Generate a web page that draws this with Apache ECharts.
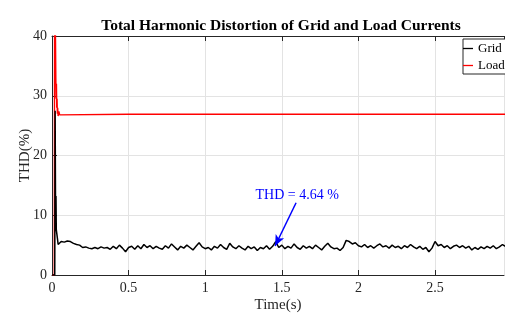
<!DOCTYPE html>
<html>
<head>
<meta charset="utf-8">
<script src="https://cdn.jsdelivr.net/npm/echarts@6/dist/echarts.min.js"></script>
<style>
  html, body { margin: 0; padding: 0; background: #fff; }
  #chart { width: 505px; height: 316px; }
</style>
</head>
<body>
<div id="chart"></div>
<script>
// start-up transient of the grid current THD
const gridStartTime = [0, 0.018, 0.0205, 0.023, 0.026, 0.028, 0.030, 0.033, 0.036, 0.040, 0.045, 0.050];
const gridStartThd  = [0, 0, 27.5, 12.0, 13.2, 7.6, 7.8, 7.4, 6.0, 5.1, 5.0, 5.4];

// steady part, one value every 0.02 s from 0.06 s
const gridSteadyStart = 0.06;
const gridSteadyStep = 0.02;
const gridSteadyThd = [
  5.6, 5.5, 5.7, 5.6, 5.3, 5.1, 5.0, 4.6, 4.7, 4.5,
  4.4, 4.6, 4.4, 4.7, 4.5, 4.6, 4.3, 4.8, 4.4, 5.0,
  4.5, 3.9, 4.6, 4.8, 4.3, 4.9, 4.4, 5.1, 4.6, 4.9,
  4.4, 4.8, 4.5, 4.3, 4.9, 4.5, 5.2, 4.7, 4.2, 4.8,
  4.5, 5.0, 4.6, 4.2, 4.8, 5.4, 4.7, 4.4, 4.6, 4.2,
  4.8, 4.5, 5.1, 4.6, 4.3, 5.3, 4.7, 4.4, 4.9, 4.5,
  4.2, 4.8, 4.4, 4.7, 4.1, 4.6, 4.4, 4.9, 4.3, 4.8,
  5.6, 4.6, 5.0, 4.4, 4.8, 4.5, 5.2, 4.6, 4.3, 4.9,
  4.5, 4.8, 4.4, 5.0, 4.6, 4.2, 4.8, 5.3, 4.7, 4.4,
  4.5, 4.1, 4.6, 5.8, 5.6, 5.2, 5.4, 4.9, 4.7, 5.1,
  4.6, 4.9, 4.5, 4.9, 5.2, 4.7, 4.9, 4.5, 5.0, 4.6,
  4.8, 4.4, 4.9, 4.6, 5.1, 4.7, 4.4, 4.8, 4.3, 4.6,
  3.9, 4.5, 5.6, 4.9, 5.1, 4.6, 4.9, 4.4, 4.8, 5.0,
  4.6, 4.9, 4.5, 4.8, 4.2, 4.6, 4.3, 4.7, 4.4, 4.8,
  4.5, 4.9, 4.4, 4.7, 5.1, 4.8
];

// load current THD
const loadTime = [0, 0.015, 0.017, 0.022, 0.025, 0.027, 0.029, 0.031, 0.033, 0.035, 0.037, 0.040, 0.045, 0.050, 0.060, 0.5, 1.0, 1.5, 2.0, 2.5, 2.96];
const loadThd  = [0, 0, 48, 42, 33, 29.5, 32, 28, 29.5, 27, 28, 26.6, 27.4, 26.8, 27.0, 26.9, 26.9, 26.9, 26.9, 26.9, 26.9];

const xTicks = [0, 0.5, 1, 1.5, 2, 2.5];
const yTicks = [0, 10, 20, 30, 40];

const annotText = "THD = 4.64 %";
const annotFrom = [1.593, 12.1];
const annotTo = [1.456, 4.85];
const annotLabelAt = [1.60, 13.4];

const gridData = gridStartTime.map((t, i) => [t, gridStartThd[i]]);
gridSteadyThd.forEach((v, i) => {
  gridData.push([+(gridSteadyStart + i * gridSteadyStep).toFixed(3), v]);
});
const loadData = loadTime.map((t, i) => [t, loadThd[i]]);

const font = "'Liberation Serif', 'Times New Roman', serif";
const chart = echarts.init(document.getElementById("chart"));

chart.setOption({
  animation: false,
  backgroundColor: "#fff",
  title: {
    text: "Total Harmonic Distortion of Grid and Load Currents",
    left: 276,
    top: 13,
    textAlign: "center",
    textStyle: { fontFamily: font, fontSize: 15.5, fontWeight: "bold", color: "#000" },
  },
  legend: {
    orient: "vertical",
    left: 463,
    top: 39,
    padding: [3, 3, 2, 0],
    itemGap: 4,
    itemWidth: 10,
    itemHeight: 1.3,
    icon: "rect",
    backgroundColor: "#fff",
    borderColor: "#262626",
    borderWidth: 1,
    borderRadius: 0,
    textStyle: { fontFamily: font, fontSize: 13, color: "#000" },
    data: ["Grid", "Load"],
  },
  grid: { left: 52, right: 1, top: 36, bottom: 41, containLabel: false, outerBoundsMode: "none" },
  xAxis: [
    {
      type: "value",
      min: 0,
      max: 2.95,
      interval: 0.5,
      name: "Time(s)",
      nameLocation: "middle",
      nameGap: 23,
      nameMoveOverlap: false,
      nameTextStyle: { fontFamily: font, fontSize: 15, color: "#262626" },
      axisLine: { lineStyle: { color: "#262626", width: 1 } },
      axisTick: { inside: true, length: 5, lineStyle: { color: "#262626" } },
      axisLabel: {
        fontFamily: font, fontSize: 14, color: "#262626", margin: 6,
        showMaxLabel: false,
        formatter: (v) => (xTicks.includes(v) ? String(v) : ""),
      },
      splitLine: { show: true, lineStyle: { color: "#e3e3e3", width: 1 } },
    },
    {
      type: "value",
      position: "top",
      min: 0,
      max: 2.95,
      interval: 0.5,
      axisLine: { show: true, onZero: false, lineStyle: { color: "#262626", width: 1 } },
      axisTick: { show: true, inside: true, length: 5, lineStyle: { color: "#262626" } },
      axisLabel: { show: false },
      splitLine: { show: false },
    },
  ],
  yAxis: {
    type: "value",
    min: 0,
    max: 40,
    interval: 10,
    name: "THD(%)",
    nameLocation: "middle",
    nameGap: 19,
    nameMoveOverlap: false,
    nameTextStyle: { fontFamily: font, fontSize: 15, color: "#262626" },
    axisLine: { show: true, lineStyle: { color: "#262626", width: 1 } },
    axisTick: { show: true, inside: true, length: 5, lineStyle: { color: "#262626" } },
    axisLabel: {
      fontFamily: font, fontSize: 14, color: "#262626", margin: 5,
      formatter: (v) => (yTicks.includes(v) ? String(v) : ""),
    },
    splitLine: { show: true, lineStyle: { color: "#e3e3e3", width: 1 } },
  },
  series: [
    {
      name: "Grid",
      type: "line",
      data: gridData,
      showSymbol: false,
      symbol: "none",
      color: "#000",
      lineStyle: { color: "#000", width: 1.5 },
      z: 3,
      markLine: {
        silent: true,
        symbol: ["none", "arrow"],
        symbolSize: [7, 11],
        lineStyle: { color: "#0000ff", width: 1.5, type: "solid" },
        label: { show: false },
        data: [[{ coord: annotFrom }, { coord: annotTo }]],
      },
      markPoint: {
        silent: true,
        symbol: "circle",
        symbolSize: 0,
        label: {
          show: true,
          position: "inside",
          formatter: annotText,
          fontFamily: font,
          fontSize: 14,
          color: "#0000ff",
        },
        data: [{ coord: annotLabelAt }],
      },
    },
    {
      name: "Load",
      type: "line",
      data: loadData,
      showSymbol: false,
      symbol: "none",
      color: "#ff0000",
      lineStyle: { color: "#ff0000", width: 1.4 },
      z: 2,
    },
  ],
});
</script>
</body>
</html>
